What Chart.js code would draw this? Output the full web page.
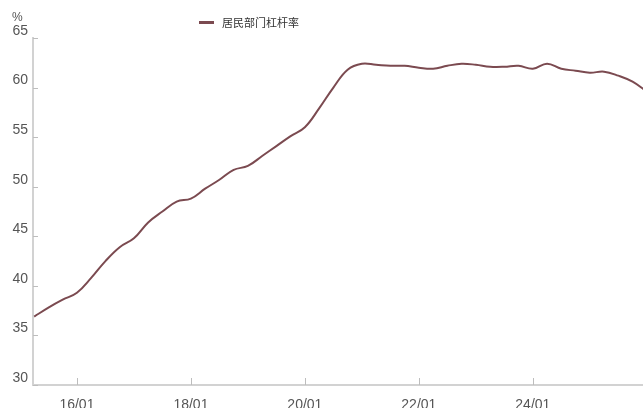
<!DOCTYPE html>
<html>
<head>
<meta charset="utf-8">
<script src="https://cdn.jsdelivr.net/npm/chart.js@4"></script>
<style>
  html, body { margin: 0; padding: 0; background: #fff; }
  #wrap { position: relative; width: 643px; height: 408px; }
  #legend {
    position: absolute; left: 199px; top: 14px;
    font: 11px "Noto Sans CJK SC", sans-serif; color: #333;
    display: flex; align-items: center;
  }
  #legend span.swatch {
    display: inline-block; width: 15px; height: 3px; background: #7b4a50;
    margin-right: 8px;
  }
  #unit {
    position: absolute; left: 12px; top: 10px;
    font: 12px "Liberation Sans", sans-serif; color: #555;
  }
</style>
</head>
<body>
<div id="wrap">
  <canvas id="leverageChart" width="643" height="408"></canvas>
  <div id="legend"><span class="swatch"></span>居民部门杠杆率</div>
  <div id="unit">%</div>
</div>
<script>
// months counted from 2015-01 (quarter ends)
const months = [3, 6, 9, 12, 15, 18, 21, 24, 27, 30, 33, 36, 39, 42, 45, 48,
  51, 54, 57, 60, 63, 66, 69, 72, 75, 78, 81, 84, 87, 90, 93, 96, 99, 102,
  105, 108, 111, 114, 117, 120, 123, 126, 129, 132];

// 居民部门杠杆率 (%)
const leverage = [36.9, 37.8, 38.6, 39.3, 40.8, 42.5, 43.9, 44.8, 46.4, 47.5,
  48.5, 48.8, 49.8, 50.7, 51.7, 52.1, 53.1, 54.1, 55.1, 56.0, 57.9, 60.0,
  61.8, 62.4, 62.3, 62.2, 62.2, 62.0, 61.9, 62.2, 62.4, 62.3, 62.1, 62.1,
  62.2, 61.9, 62.4, 61.9, 61.7, 61.5, 61.6, 61.2, 60.6, 59.6];

const xTicks = [12, 36, 60, 84, 108];
const yTicks = [30, 35, 40, 45, 50, 55, 60, 65];

const axisColor = "#d2d2d2";
const labelColor = "#555";

// short tick marks drawn inward from each axis
const innerTicks = {
  id: "innerTicks",
  afterDraw(chart) {
    const { ctx, chartArea, scales } = chart;
    ctx.save();
    ctx.strokeStyle = "#bdbdbd";
    ctx.lineWidth = 1;
    yTicks.forEach((v) => {
      const y = Math.round(scales.y.getPixelForValue(v)) + 0.5;
      ctx.beginPath();
      ctx.moveTo(chartArea.left, y);
      ctx.lineTo(chartArea.left + 5, y);
      ctx.stroke();
    });
    xTicks.forEach((v) => {
      const x = Math.round(scales.x.getPixelForValue(v)) + 0.5;
      ctx.beginPath();
      ctx.moveTo(x, chartArea.bottom);
      ctx.lineTo(x, chartArea.bottom - 7);
      ctx.stroke();
    });
    ctx.restore();
  },
};

const ctx = document.getElementById("leverageChart").getContext("2d");
new Chart(ctx, {
  type: "line",
  data: {
    datasets: [
      {
        label: "居民部门杠杆率",
        data: months.map((m, i) => ({ x: m, y: leverage[i] })),
        borderColor: "#7b4a50",
        borderWidth: 2,
        pointRadius: 0,
        tension: 0.4,
        fill: false,
      },
    ],
  },
  options: {
    responsive: false,
    animation: false,
    layout: { padding: { top: 38, right: 0, left: 0, bottom: 0 } },
    plugins: {
      legend: { display: false },
      tooltip: { enabled: false },
    },
    scales: {
      x: {
        type: "linear",
        min: 2.75,
        max: 131.2,
        afterBuildTicks: (scale) => {
          scale.ticks = xTicks.map((v) => ({ value: v }));
        },
        afterFit: (scale) => {
          scale.height = 23;
        },
        grid: { display: false, drawTicks: false },
        border: { color: axisColor, width: 2 },
        ticks: {
          padding: 12,
          color: labelColor,
          font: { family: "Liberation Sans", size: 14 },
          maxRotation: 0,
          callback: (v) => {
            const yy = 15 + Math.floor(v / 12);
            return yy + "/01";
          },
        },
      },
      y: {
        min: 30,
        max: 65,
        afterBuildTicks: (scale) => {
          scale.ticks = yTicks.map((v) => ({ value: v }));
        },
        afterFit: (scale) => {
          scale.width = 33;
        },
        grid: { display: false, drawTicks: false },
        border: { color: axisColor, width: 2 },
        ticks: {
          padding: 5,
          labelOffset: -7,
          color: labelColor,
          font: { family: "Liberation Sans", size: 14 },
        },
      },
    },
  },
  plugins: [innerTicks],
});
</script>
</body>
</html>
